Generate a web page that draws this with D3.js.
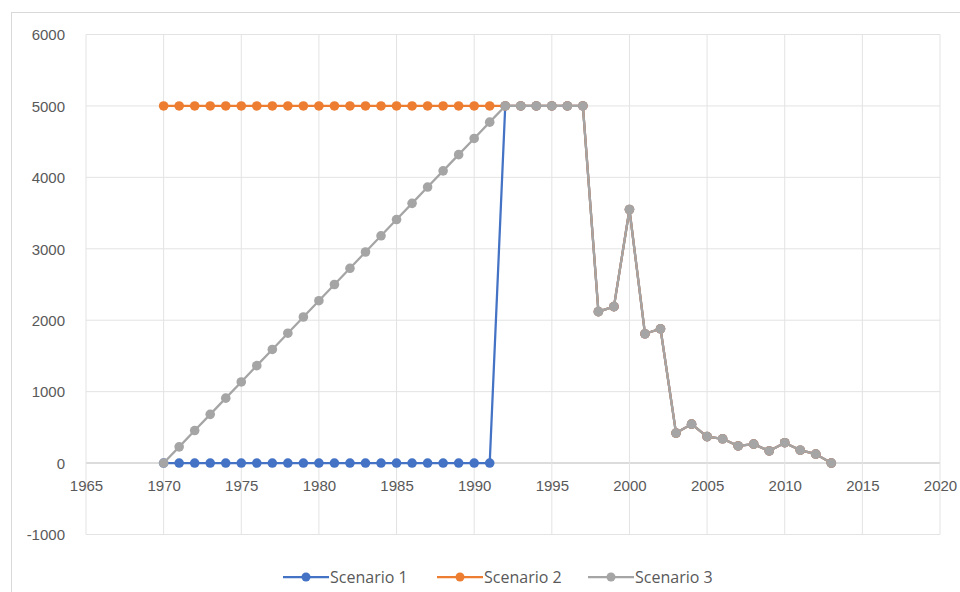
<!DOCTYPE html>
<html>
<head>
<meta charset="utf-8">
<script src="https://cdn.jsdelivr.net/npm/d3@7"></script>
<style>
  body { margin: 0; background: #fff; }
  svg { font-family: "Open Sans", "Liberation Sans", sans-serif; }
</style>
</head>
<body>
<div id="chart"></div>
<script>
var years = d3.range(1970, 2014);
var seriesNames = ["Scenario 1", "Scenario 2", "Scenario 3"];
var tail = [5000, 5000, 5000, 5000, 5000, 5000, 2120, 2190, 3550, 1810, 1880,
  420, 545, 370, 340, 240, 265, 170, 285, 180, 125, 0];
var scenario1_head = [0, 0, 0, 0, 0, 0, 0, 0, 0, 0, 0, 0, 0, 0, 0, 0, 0, 0, 0, 0, 0, 0];
var scenario2_head = [5000, 5000, 5000, 5000, 5000, 5000, 5000, 5000, 5000, 5000, 5000,
  5000, 5000, 5000, 5000, 5000, 5000, 5000, 5000, 5000, 5000, 5000];
var scenario3_head = [0, 227, 455, 682, 909, 1136, 1364, 1591, 1818, 2045, 2273,
  2500, 2727, 2955, 3182, 3409, 3636, 3864, 4091, 4318, 4545, 4773];
var xTicks = [1965, 1970, 1975, 1980, 1985, 1990, 1995, 2000, 2005, 2010, 2015, 2020];
var yTicks = [-1000, 0, 1000, 2000, 3000, 4000, 5000, 6000];
var colors = ["#4472C4", "#ED7D31", "#A5A5A5"];

var values = [
  scenario1_head.concat(tail),
  scenario2_head.concat(tail),
  scenario3_head.concat(tail),
];
var series = seriesNames.map((name, k) => ({
  name: name,
  color: colors[k],
  points: years.map((yr, i) => ({ year: yr, value: values[k][i] })),
}));

var width = 960, height = 592;
var svg = d3.select("#chart").append("svg")
  .attr("width", width).attr("height", height);

// chart border
svg.append("rect")
  .attr("x", 11.5).attr("y", 12.5)
  .attr("width", 1000).attr("height", 1000)
  .attr("fill", "none").attr("stroke", "#d9d9d9");

var x = d3.scaleLinear().domain([1965, 2020]).range([86, 940]);
var y = d3.scaleLinear().domain([-1000, 6000]).range([534.5, 34.5]);

// grid
svg.append("g").selectAll("line").data(yTicks).enter().append("line")
  .attr("x1", x(1965)).attr("x2", x(2020))
  .attr("y1", (d) => y(d)).attr("y2", (d) => y(d))
  .attr("stroke", (d) => (d == 0 ? "#d0d0d0" : "#e3e3e3"))
  .attr("stroke-width", (d) => (d == 0 ? 1.5 : 1));
svg.append("g").selectAll("line").data(xTicks).enter().append("line")
  .attr("x1", (d) => x(d)).attr("x2", (d) => x(d))
  .attr("y1", y(6000)).attr("y2", y(-1000))
  .attr("stroke", "#e3e3e3");

// y axis labels
svg.append("g")
  .attr("transform", `translate(${x(1965) - 18},0)`)
  .call(d3.axisLeft(y).tickValues(yTicks).tickSize(0).tickFormat((d) => d))
  .call((g) => g.select(".domain").remove())
  .call((g) => g.selectAll("text")
    .attr("fill", "#595959").style("font-size", "15px").attr("dy", "0.35em"));

// x axis labels at 0
svg.append("g")
  .attr("transform", `translate(0,${y(0) + 14})`)
  .call(d3.axisBottom(x).tickValues(xTicks).tickSize(0).tickFormat((d) => d))
  .call((g) => g.select(".domain").remove())
  .call((g) => g.selectAll("text")
    .attr("fill", "#595959").style("font-size", "15px"));

var line = d3.line().x((d) => x(d.year)).y((d) => y(d.value));

series.forEach((s) => {
  var g = svg.append("g");
  g.append("path")
    .attr("d", line(s.points))
    .attr("fill", "none")
    .attr("stroke", s.color)
    .attr("stroke-width", 2.25)
    .attr("stroke-linejoin", "round");
  g.selectAll("circle").data(s.points).enter().append("circle")
    .attr("cx", (d) => x(d.year)).attr("cy", (d) => y(d.value))
    .attr("r", 4.8)
    .attr("fill", s.color);
});

// legend
var legendX = [283, 437, 588];
var legend = svg.append("g").attr("transform", "translate(0,577)");
series.forEach((s, k) => {
  var lg = legend.append("g").attr("transform", `translate(${legendX[k]},0)`);
  lg.append("line").attr("x1", 0).attr("x2", 46)
    .attr("stroke", s.color).attr("stroke-width", 2.25);
  lg.append("circle").attr("cx", 23).attr("r", 4.5).attr("fill", s.color);
  lg.append("text").attr("x", 47).attr("dy", "0.35em")
    .attr("fill", "#595959").style("font-size", "16px").text(s.name);
});
</script>
</body>
</html>
